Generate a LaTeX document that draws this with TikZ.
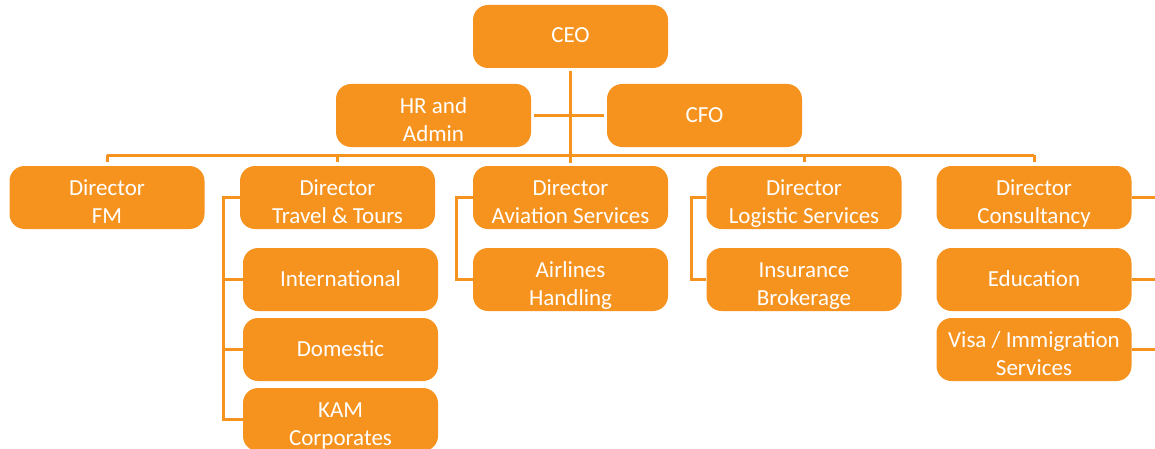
\documentclass[tikz,border=0pt]{standalone}
\usepackage{fontspec}
\setmainfont{Carlito}
\usetikzlibrary{calc}
\definecolor{orgorange}{HTML}{F6931F}
\newcommand{\boxstrut}{\rule[-2.5pt]{0pt}{11.5pt}}
\newcommand{\firststrut}{\rule{0pt}{14.5pt}}
\tikzset{
  box/.style={draw=none, fill=orgorange, rounded corners=7.5pt, minimum width=97.5pt,
    minimum height=31.5pt, text=white, align=center, inner sep=0pt,
    font=\fontsize{11.5}{14}\selectfont,
    execute at begin node=\boxstrut, execute at end node=\boxstrut},
  link/.style={draw=orgorange, line width=1.5pt}
}
\begin{document}
\begin{tikzpicture}[x=0.5pt,y=-0.5pt]
  \useasboundingbox (0,0) rectangle (1155,449);
  % top level
  \node[box] (ceo) at (570.5,36.5) {CEO};
  \node[box] (hr) at (433.5,115.5) {\firststrut HR and\\Admin};
  \node[box] (cfo) at (704.5,115.5) {CFO};
  % directors
  \node[box] (fm) at (107,197.5) {\firststrut Director\\FM};
  \node[box] (trv) at (337.5,197.5) {\firststrut Director\\Travel \& Tours};
  \node[box] (avi) at (570.5,197.5) {\firststrut Director\\Aviation Services};
  \node[box] (log) at (804,197.5) {\firststrut Director\\Logistic Services};
  \node[box] (con) at (1034,197.5) {\firststrut Director\\Consultancy};
  % units
  \node[box] (int) at (340.5,279.5) {International};
  \node[box] (dom) at (340.5,349.5) {Domestic};
  \node[box] (kam) at (340.5,419.5) {\firststrut KAM\\Corporates};
  \node[box] (air) at (570.5,279.5) {\firststrut Airlines\\Handling};
  \node[box] (ins) at (804,279.5) {\firststrut Insurance\\Brokerage};
  \node[box] (edu) at (1034,279.5) {Education};
  \node[box] (visa) at (1034,349.5) {\firststrut Visa / Immigration\\Services};
  \coordinate (bus) at (0,155);
  \coordinate (spine) at (223,0);
  \coordinate (edge) at (1155,0);
  % connectors
  \draw[link] ($(ceo.south)+(0,3)$) -- ($(avi.north)+(0,-3)$);
  \draw[link, shorten <=1.5pt, shorten >=1.5pt] (hr.east) -- (cfo.west);
  \draw[link] (fm.north |- bus) -- (con.north |- bus);
  \foreach \d in {fm,trv,log,con}
    \draw[link] (\d.north |- bus) -- ($(\d.north)+(0,-4)$);
  \draw[link] (trv.west) -| (spine |- kam.west) -- (kam.west);
  \foreach \u in {int,dom}
    \draw[link] (\u.west) -- (\u.west -| spine);
  \draw[link] (avi.west) -- ++(-16,0) |- (air.west);
  \draw[link] (log.west) -- ++(-15,0) |- (ins.west);
  \foreach \u in {con,edu,visa}
    \draw[link] (\u.east) -- (\u.east -| edge);
\end{tikzpicture}
\end{document}
